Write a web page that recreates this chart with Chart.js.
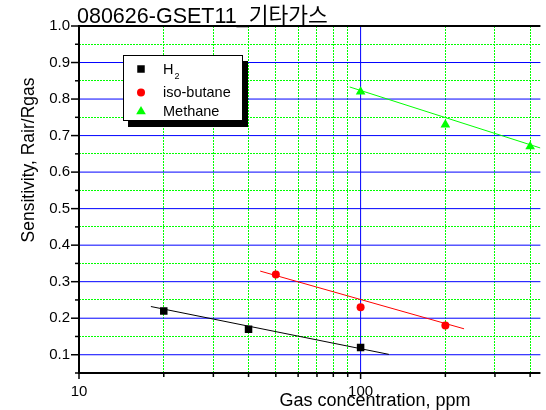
<!DOCTYPE html>
<html>
<head>
<meta charset="utf-8">
<script src="https://cdn.jsdelivr.net/npm/chart.js@4"></script>
<style>
  html, body { margin: 0; padding: 0; background: #fff; }
  #wrap { width: 546px; height: 410px; position: relative; }
</style>
</head>
<body>
<div id="wrap"><canvas id="chart"></canvas></div>
<script>
const chart_title = '080626-GSET11_기타가스';
const x_title = 'Gas concentration, ppm';
const y_title = 'Sensitivity, Rair/Rgas';

const series_labels = ['H₂', 'iso-butane', 'Methane'];

const h2_conc = [20, 40, 100];
const h2_sens = [0.22, 0.17, 0.12];
const butane_conc = [50, 100, 200];
const butane_sens = [0.32, 0.23, 0.18];
const methane_conc = [100, 200, 400];
const methane_sens = [0.82, 0.73, 0.67];

// fitted lines, end points
const h2_fit_conc = [18, 126];
const h2_fit_sens = [0.232, 0.101];
const butane_fit_conc = [44, 233];
const butane_fit_sens = [0.329, 0.171];
const methane_fit_conc = [91.5, 435];
const methane_fit_sens = [0.833, 0.666];

// axis ticks
const x_grid_ticks = [10, 20, 30, 40, 50, 60, 70, 80, 90, 100, 200, 300, 400];
const x_labels = [10, 100];
const y_labels = [0.1, 0.2, 0.3, 0.4, 0.5, 0.6, 0.7, 0.8, 0.9, 1.0];

const FONT = '"Liberation Sans", Arial, "Noto Sans CJK KR", sans-serif';

const to_points = (xs, ys) => xs.map((v, i) => ({ x: v, y: ys[i] }));
const is_label = (list, v) => list.some(l => Math.abs(l - v) < 1e-6);

const marker_styles = [
    { style: 'rect', radius: 5.3, color: '#000000' },
    { style: 'circle', radius: 4, color: '#ff0000' },
    { style: 'triangle', radius: 5.6, color: '#00ff00' },
];

function draw_marker(ctx, m, x, y) {
    ctx.fillStyle = m.color;
    ctx.beginPath();
    if (m.style == 'rect') {
        let s = m.radius * Math.SQRT1_2;
        ctx.rect(x - s, y - s, 2 * s, 2 * s);
    }
    else if (m.style == 'circle') {
        ctx.arc(x, y, m.radius, 0, Math.PI * 2);
    }
    else {
        let r = m.radius;
        ctx.moveTo(x, y - r);
        ctx.lineTo(x + r * Math.sin(Math.PI * 2 / 3), y + r / 2);
        ctx.lineTo(x - r * Math.sin(Math.PI * 2 / 3), y + r / 2);
        ctx.closePath();
    }
    ctx.fill();
}

// blue major grid, black frame and tick marks like the Origin plot
const frame_plugin = {
    id: 'frame',
    beforeDatasetsDraw(chart) {
        const { ctx, chartArea: a, scales: { x, y } } = chart;
        ctx.save();
        ctx.strokeStyle = '#0000ff';
        ctx.lineWidth = 1;
        y_labels.forEach(v => {
            let py = y.getPixelForValue(v);
            if (py <= a.top + 1) return;
            ctx.beginPath(); ctx.moveTo(a.left, py); ctx.lineTo(a.right, py); ctx.stroke();
        });
        x_labels.forEach(v => {
            let px = x.getPixelForValue(v);
            if (px <= a.left + 1) return;
            ctx.beginPath(); ctx.moveTo(px, a.top); ctx.lineTo(px, a.bottom); ctx.stroke();
        });

        ctx.strokeStyle = '#000000';
        ctx.lineWidth = 1.5;
        // y ticks
        y.ticks.forEach(t => {
            let py = y.getPixelForValue(t.value);
            let len = is_label(y_labels, t.value) ? 8 : 4;
            ctx.beginPath(); ctx.moveTo(a.left - len, py); ctx.lineTo(a.left, py); ctx.stroke();
        });
        // x ticks
        x.ticks.forEach(t => {
            let px = x.getPixelForValue(t.value);
            let len = is_label(x_labels, t.value) ? 6 : 4;
            ctx.beginPath(); ctx.moveTo(px, a.bottom); ctx.lineTo(px, a.bottom + len); ctx.stroke();
        });
        ctx.lineWidth = 2;
        ctx.beginPath();
        ctx.moveTo(a.right, a.top);
        ctx.lineTo(a.left, a.top);
        ctx.lineTo(a.left, a.bottom);
        ctx.lineTo(a.right, a.bottom);
        ctx.stroke();
        ctx.restore();
    },
    afterDraw(chart) {
        const { ctx } = chart;
        ctx.save();
        ctx.fillStyle = '#000000';
        ctx.textBaseline = 'alphabetic';

        ctx.font = '21.5px ' + FONT;
        ctx.textAlign = 'left';
        ctx.fillText(chart_title, 77, 23);

        ctx.font = '18px ' + FONT;
        ctx.textAlign = 'center';
        ctx.fillText(x_title, 375, 406);

        ctx.save();
        ctx.translate(34, 160);
        ctx.rotate(-Math.PI / 2);
        ctx.font = '17.5px ' + FONT;
        ctx.fillText(y_title, 0, 0);
        ctx.restore();

        // legend box with drop shadow
        const box = { x: 123, y: 55, w: 120, h: 66 };
        ctx.fillStyle = '#000000';
        ctx.fillRect(box.x + 5, box.y + 6, box.w, box.h);
        ctx.fillStyle = '#ffffff';
        ctx.fillRect(box.x, box.y, box.w, box.h);
        ctx.strokeStyle = '#000000';
        ctx.lineWidth = 1;
        ctx.strokeRect(box.x + 0.5, box.y + 0.5, box.w - 1, box.h - 1);

        const rows = [69, 92.5, 111.5];
        ctx.textAlign = 'left';
        series_labels.forEach((label, i) => {
            draw_marker(ctx, marker_styles[i], 141, rows[i]);
            ctx.fillStyle = '#000000';
            let tx = 163;
            for (const ch of label) {
                let sub = '₀₁₂₃₄₅₆₇₈₉'.indexOf(ch);
                if (sub >= 0) {
                    ctx.font = '9px ' + FONT;
                    ctx.fillText(String(sub), tx + 1, rows[i] + 10);
                    tx += ctx.measureText(String(sub)).width + 1;
                }
                else {
                    ctx.font = '14.5px ' + FONT;
                    ctx.fillText(ch, tx, rows[i] + 4.5);
                    tx += ctx.measureText(ch).width;
                }
            }
        });
        ctx.restore();
    }
};

const point_set = (label, xs, ys, i) => ({
    label: label,
    data: to_points(xs, ys),
    showLine: false,
    pointStyle: marker_styles[i].style,
    pointRadius: marker_styles[i].radius,
    pointBackgroundColor: marker_styles[i].color,
    pointBorderColor: marker_styles[i].color,
    pointBorderWidth: 0,
    order: 0,
});

const fit_set = (xs, ys, color) => ({
    label: 'fit',
    data: to_points(xs, ys),
    showLine: true,
    borderColor: color,
    borderWidth: 1,
    pointRadius: 0,
    order: 1,
});

onload = () => {
    new Chart(document.getElementById('chart'), {
        type: 'scatter',
        data: {
            datasets: [
                point_set(series_labels[0], h2_conc, h2_sens, 0),
                point_set(series_labels[1], butane_conc, butane_sens, 1),
                point_set(series_labels[2], methane_conc, methane_sens, 2),
                fit_set(h2_fit_conc, h2_fit_sens, '#000000'),
                fit_set(butane_fit_conc, butane_fit_sens, '#ff0000'),
                fit_set(methane_fit_conc, methane_fit_sens, '#00ff00'),
            ]
        },
        options: {
            responsive: true,
            maintainAspectRatio: false,
            animation: false,
            layout: { padding: { top: 26, right: 0, left: 0, bottom: 0 } },
            plugins: {
                legend: { display: false },
                title: { display: false },
                tooltip: { enabled: false },
            },
            scales: {
                x: {
                    type: 'logarithmic',
                    min: 10,
                    max: 435,
                    afterBuildTicks: scale => {
                        scale.ticks = x_grid_ticks.map(v => ({ value: v, major: is_label(x_labels, v) }));
                    },
                    afterFit: scale => { scale.height = 37; },
                    border: { display: false, dash: [2, 1] },
                    grid: {
                        drawTicks: false,
                        color: c => (c.tick && is_label(x_labels, c.tick.value)) ? 'rgba(0,0,0,0)' : '#00ff00',
                        lineWidth: 1,
                    },
                    ticks: {
                        padding: 10,
                        autoSkip: false,
                        maxRotation: 0,
                        color: '#000000',
                        font: { family: FONT, size: 15 },
                        callback: v => is_label(x_labels, v) ? String(v) : '',
                    },
                },
                y: {
                    type: 'linear',
                    min: 0.05,
                    max: 1.0,
                    afterFit: scale => { scale.width = 79; },
                    border: { display: false, dash: [2, 1] },
                    grid: {
                        drawTicks: false,
                        color: c => (c.tick && is_label(y_labels, c.tick.value)) ? 'rgba(0,0,0,0)' : '#00ff00',
                        lineWidth: 1,
                    },
                    ticks: {
                        stepSize: 0.05,
                        autoSkip: false,
                        padding: 9,
                        color: '#000000',
                        font: { family: FONT, size: 15 },
                        callback: v => is_label(y_labels, v) ? v.toFixed(1) : '',
                    },
                },
            },
        },
        plugins: [frame_plugin],
    });
};
</script>
</body>
</html>
